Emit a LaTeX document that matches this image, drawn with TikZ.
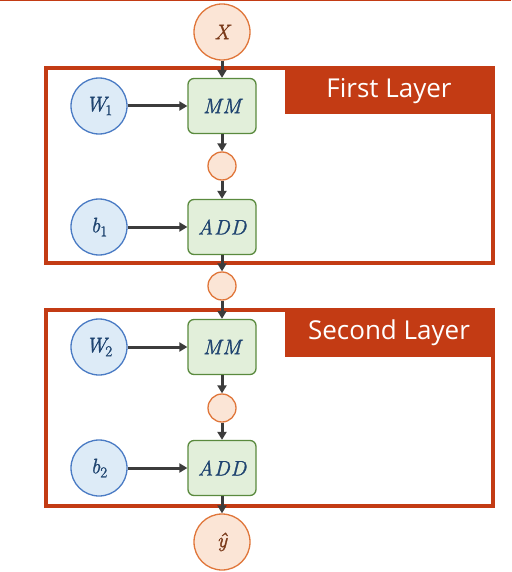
\documentclass[tikz,border=0pt]{standalone}
\usepackage{fontspec}
\usetikzlibrary{arrows.meta}
\newfontfamily\titlefont{Open Sans}
\newfontfamily\heavyit[FakeBold=1.2]{Latin Modern Roman}
\definecolor{layerred}{HTML}{C33B14}
\definecolor{orfill}{HTML}{FBE5D6}
\definecolor{ordraw}{HTML}{E0763A}
\definecolor{blfill}{HTML}{DDEBF7}
\definecolor{bldraw}{HTML}{4A7BC4}
\definecolor{grfill}{HTML}{E2EFDA}
\definecolor{grdraw}{HTML}{5A8A3E}
\definecolor{arrowc}{HTML}{3C3C3C}
\definecolor{mtext}{HTML}{1F4470}
\definecolor{xtext}{HTML}{7A3A1A}
\newcommand{\bigmath}{\heavyit\fontsize{21}{21}\selectfont\itshape}
\newcommand{\subnum}[1]{\raisebox{-4pt}{\upshape\fontsize{15}{15}\selectfont #1}}
\begin{document}
\begin{tikzpicture}[x=1pt,y=-1pt,
  bigorange/.style={circle,draw=ordraw,fill=orfill,line width=1.3pt,minimum size=56pt,inner sep=0pt,text=xtext,font=\bigmath},
  smallorange/.style={circle,draw=ordraw,fill=orfill,line width=1.3pt,minimum size=28pt,inner sep=0pt},
  param/.style={circle,draw=bldraw,fill=blfill,line width=1.3pt,minimum size=56pt,inner sep=0pt,text=mtext,font=\bigmath},
  opbox/.style={rectangle,rounded corners=6pt,draw=grdraw,fill=grfill,line width=1.3pt,minimum width=68pt,minimum height=55pt,inner sep=0pt,text=mtext,font=\bigmath},
  layerbox/.style={draw=layerred,line width=3.2pt,fill=white},
  tab/.style={fill=layerred,text=white,font=\titlefont\fontsize{26}{26}\selectfont,inner sep=0pt},
  conn/.style={draw=arrowc,line width=3pt,-{Triangle[length=8pt,width=9pt]}}]
\useasboundingbox (0,0) rectangle (511,572);
\draw[layerred,line width=1pt] (0,1) -- (511,1);
% layer boxes
\draw[layerbox] (46,68) rectangle (493,263);
\fill[layerred] (285,68) rectangle (493,114);
\node[tab] (t1) at (389,91) {First Layer};
\draw[layerbox] (46,310) rectangle (493,506);
\fill[layerred] (285,310) rectangle (493,357);
\node[tab] (t2) at (389,333) {Second Layer};
% nodes
\node[bigorange] (x) at (222,32) {X};
\node[param] (w1) at (99,106) {W\kern-1pt\subnum{1}};
\node[opbox] (mm1) at (222,106) {M\kern1ptM};
\node[smallorange] (h1) at (222,166) {};
\node[param] (b1) at (99,227) {b\subnum{1}};
\node[opbox] (add1) at (222,227) {A\kern1ptD\kern1ptD};
\node[smallorange] (h2) at (222,286) {};
\node[param] (w2) at (99,347) {W\kern-1pt\subnum{2}};
\node[opbox] (mm2) at (222,347) {M\kern1ptM};
\node[smallorange] (h3) at (222,408) {};
\node[param] (b2) at (99,468) {b\subnum{2}};
\node[opbox] (add2) at (222,468) {A\kern1ptD\kern1ptD};
\node[bigorange] (y) at (222,542) {\^{y}};
% connectors
\draw[conn] (x) -- (mm1);
\draw[conn] (w1) -- (mm1);
\draw[conn] (mm1) -- (h1);
\draw[conn] (h1) -- (add1);
\draw[conn] (b1) -- (add1);
\draw[conn] (add1) -- (h2);
\draw[conn] (h2) -- (mm2);
\draw[conn] (w2) -- (mm2);
\draw[conn] (mm2) -- (h3);
\draw[conn] (h3) -- (add2);
\draw[conn] (b2) -- (add2);
\draw[conn] (add2) -- (y);
\end{tikzpicture}
\end{document}
